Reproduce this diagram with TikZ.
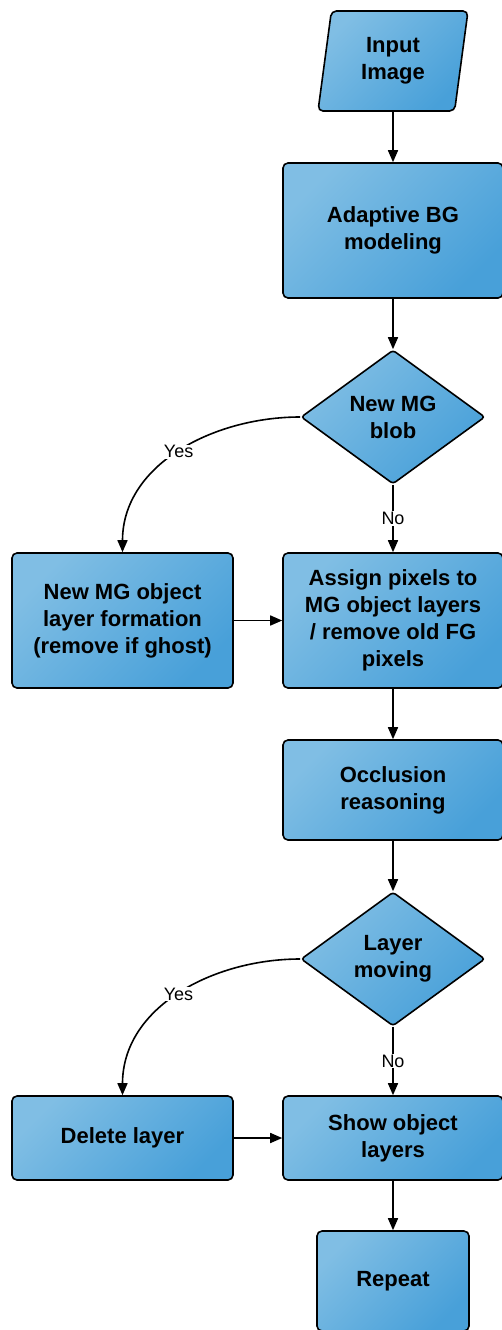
\documentclass[tikz,border=0pt]{standalone}
\usepackage{fontspec}
\setmainfont{Liberation Sans}
\usetikzlibrary{arrows.meta,shapes.geometric}

\definecolor{boxlight}{RGB}{128,190,228}
\definecolor{boxdark}{RGB}{72,160,217}

\begin{document}
\begin{tikzpicture}[x=1pt,y=-1pt,
    stepbox/.style={draw, line width=1.6pt, rounded corners=5pt,
      top color=boxlight, bottom color=boxdark, shading angle=45,
      inner sep=0pt, align=center,
      font=\bfseries\fontsize{22}{27}\selectfont},
    decision/.style={stepbox, diamond, rounded corners=3pt,
      minimum width=184pt, minimum height=134pt, shape aspect=1.37},
    iobox/.style={stepbox, trapezium, trapezium left angle=74,
      trapezium right angle=106, trapezium stretches body,
      minimum height=100pt, minimum width=150pt},
    flow/.style={line width=1.6pt, -{Triangle[length=12pt,width=10pt]}},
    answer/.style={fill=white, inner sep=1pt, font=\fontsize{18}{20}\selectfont}]
  \useasboundingbox (0,0) rectangle (501,1330);

  \node[iobox] (input) at (393,61) {Input\\Image};
  \node[stepbox, minimum width=220pt, minimum height=135pt] (bgmodel) at (393,230.5) {Adaptive BG\\modeling};
  \node[decision] (newblob) at (393,417) {New MG\\blob};
  \node[stepbox, minimum width=221pt, minimum height=135pt] (newlayer) at (122.5,620.5) {New MG object\\layer formation\\(remove if ghost)};
  \node[stepbox, minimum width=220pt, minimum height=135pt] (assign) at (393,620.5) {Assign pixels to\\MG object layers\\/ remove old FG\\pixels};
  \node[stepbox, minimum width=220pt, minimum height=100pt] (occlusion) at (393,790) {Occlusion\\reasoning};
  \node[decision] (moving) at (393,959) {Layer\\moving};
  \node[stepbox, minimum width=221pt, minimum height=84pt] (delete) at (122.5,1138) {Delete layer};
  \node[stepbox, minimum width=220pt, minimum height=84pt] (show) at (393,1138) {Show object\\layers};
  \node[stepbox, minimum width=152pt, minimum height=100pt] (repeat) at (393,1281) {Repeat};

  \draw[flow] (input) -- (bgmodel);
  \draw[flow] (bgmodel) -- (newblob);
  \draw[flow] (newblob.west) to[out=180,in=90] node[answer] {Yes} (newlayer.north);
  \draw[flow] (newblob) -- node[answer] {No} (assign);
  \draw[flow] (newlayer) -- (assign);
  \draw[flow] (assign) -- (occlusion);
  \draw[flow] (occlusion) -- (moving);
  \draw[flow] (moving.west) to[out=180,in=90] node[answer] {Yes} (delete.north);
  \draw[flow] (moving) -- node[answer] {No} (show);
  \draw[flow] (delete) -- (show);
  \draw[flow] (show) -- (repeat);
\end{tikzpicture}
\end{document}
